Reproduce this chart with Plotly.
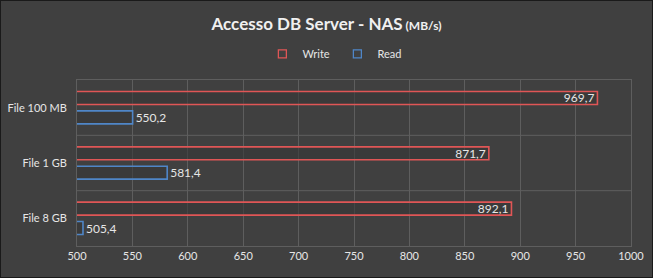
import plotly.graph_objects as go

categories = ["File 100 MB", "File 1 GB", "File 8 GB"]
write_vals = [969.7, 871.7, 892.1]
read_vals = [550.2, 581.4, 505.4]
x_ticks = [500, 550, 600, 650, 700, 750, 800, 850, 900, 950, 1000]

BG = "#404040"
TXT = "#e6e6e6"
FONT = "Lato, 'Open Sans', sans-serif"
RED = "#e05656"
BLUE = "#4f86c8"

fig = go.Figure()
fig.add_trace(go.Bar(
    name="Write", y=categories, x=write_vals, orientation="h", showlegend=False,
    marker=dict(color="rgba(55,55,55,0.6)", line=dict(color=RED, width=1.6)),
    text=write_vals, texttemplate="%{x:.1f}", textposition="inside",
    insidetextanchor="end", constraintext="none",
    textfont=dict(color=TXT, size=12, family=FONT),
))
fig.add_trace(go.Bar(
    name="Read", y=categories, x=read_vals, orientation="h", showlegend=False,
    marker=dict(color="rgba(55,55,55,0.6)", line=dict(color=BLUE, width=1.6)),
    text=read_vals, texttemplate="%{x:.1f}", textposition="outside",
    constraintext="none",
    textfont=dict(color=TXT, size=12, family=FONT), cliponaxis=False,
))
for nm, col in [("Write", RED), ("Read", BLUE)]:
    fig.add_trace(go.Scatter(
        name=nm, x=[None], y=[None], mode="markers",
        marker=dict(symbol="square-open", size=8, color=col, line=dict(width=1.3)),
    ))

fig.update_layout(
    width=653, height=278,
    paper_bgcolor=BG, plot_bgcolor=BG,
    separators=",.",
    barmode="group", bargap=0.30, bargroupgap=0.33,
    margin=dict(l=77, r=22, t=80, b=32),
    font=dict(family=FONT, color=TXT, size=11),
    title=dict(
        text="<b>Accesso DB Server - NAS</b><b><span style='font-size:12px'> (MB/s)</span></b>",
        x=0.5, xanchor="center", y=0.915, yanchor="middle",
        font=dict(size=17, color="#f0f0f0", family=FONT),
    ),
    legend=dict(
        orientation="h", x=0.47, xanchor="center", y=1.157, yanchor="middle",
        font=dict(size=11, color=TXT), bgcolor="rgba(0,0,0,0)",
        traceorder="normal", itemwidth=30, entrywidth=30, entrywidthmode="pixels",
    ),
    xaxis=dict(
        range=[500, 1000], tickvals=x_ticks, showgrid=True, gridcolor="#5e5e5e",
        gridwidth=1, zeroline=False, showline=True, linecolor="#5e5e5e", mirror=True,
        tickfont=dict(size=11, color=TXT), ticks="", automargin=False,
    ),
    yaxis=dict(
        categoryorder="array", categoryarray=categories, autorange="reversed",
        showgrid=False, showline=True, linecolor="#5e5e5e", mirror=True,
        tickfont=dict(size=11, color=TXT), ticks="", ticklabelstandoff=7,
        automargin=False,
    ),
    shapes=[
        dict(type="line", xref="paper", yref="y", x0=0, x1=1, y0=0.5, y1=0.5,
             line=dict(color="#5e5e5e", width=1), layer="below"),
        dict(type="line", xref="paper", yref="y", x0=0, x1=1, y0=1.5, y1=1.5,
             line=dict(color="#5e5e5e", width=1), layer="below"),
        dict(type="rect", xref="paper", yref="paper", x0=-77/554, x1=1 + 22/554,
             y0=-32/166, y1=1 + 80/166, line=dict(color="#1a1a1a", width=2)),
    ],
)

fig.write_html("out.html")
